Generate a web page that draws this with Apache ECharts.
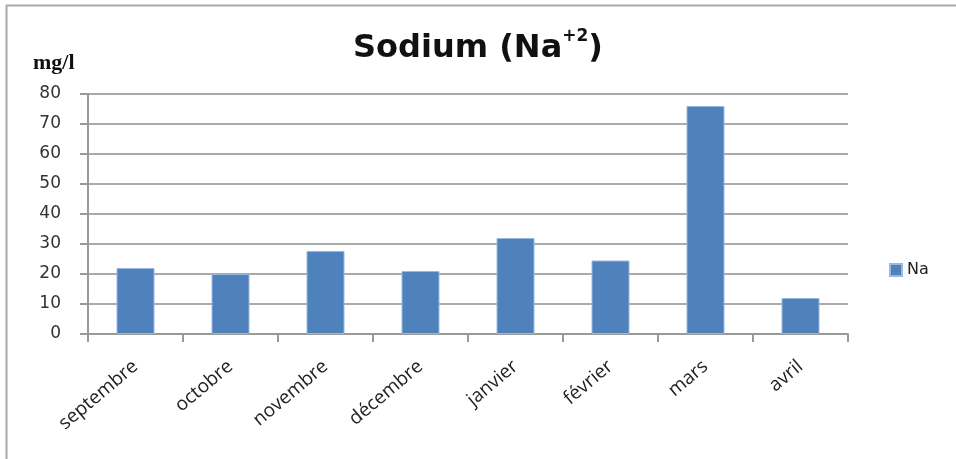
<!DOCTYPE html>
<html><head><meta charset="utf-8">
<script src="https://cdn.jsdelivr.net/npm/echarts@6/dist/echarts.min.js"></script>
<style>html,body{margin:0;padding:0;background:#fff}#c{width:956px;height:459px}</style>
</head><body><div id="c"></div>
<script>
const categories = ['septembre','octobre','novembre','décembre','janvier','février','mars','avril'];
const naValues = [22, 20, 27.7, 21, 32, 24.5, 76, 12];
const yTicks = {min: 0, max: 80, interval: 10};
const seriesName = 'Na';

const chart = echarts.init(document.getElementById('c'), null, {renderer: 'canvas'});
chart.setOption({
  animation: false,
  backgroundColor: '#fff',
  title: {
    text: '{t|Sodium (Na}{s|+2}{t|)}',
    left: 'center', top: 23,
    textStyle: {
      rich: {
        t: {fontFamily: 'DejaVu Sans', fontWeight: 'bold', fontSize: 32, color: '#111', lineHeight: 42},
        s: {fontFamily: 'DejaVu Sans', fontWeight: 'bold', fontSize: 17, color: '#111', verticalAlign: 'top', lineHeight: 42, padding: [0,0,12,0]}
      }
    }
  },
  graphic: [
    {type: 'line', shape: {x1: 6, y1: 5.5, x2: 956, y2: 5.5}, style: {stroke: '#aaaaaa', lineWidth: 2}},
    {type: 'line', shape: {x1: 6.5, y1: 5, x2: 6.5, y2: 459}, style: {stroke: '#aaaaaa', lineWidth: 2}},
    {type: 'text', left: 33, top: 52, style: {text: 'mg/l', font: 'bold 22px "Liberation Serif"', fill: '#111'}}
  ],
  legend: {
    data: [seriesName], left: 884, top: 257, orient: 'vertical',
    itemWidth: 12, itemHeight: 12, itemGap: 8,
    icon: 'rect',
    textStyle: {fontFamily: 'DejaVu Sans', fontSize: 16, color: '#222'}
  },
  grid: {left: 88, right: 108, top: 94, bottom: 125, containLabel: false},
  xAxis: {
    type: 'category', data: categories,
    axisLine: {lineStyle: {color: '#999', width: 2}},
    axisTick: {show: true, alignWithLabel: false, length: 8, lineStyle: {color: '#999', width: 2}},
    axisLabel: {rotate: 40, margin: 30, fontFamily: 'Open Sans', fontSize: 19, color: '#222'}
  },
  yAxis: {
    type: 'value', min: yTicks.min, max: yTicks.max, interval: yTicks.interval,
    axisLine: {show: true, lineStyle: {color: '#999', width: 2}},
    axisTick: {show: true, inside: false, length: 8, lineStyle: {color: '#999', width: 2}},
    splitLine: {show: true, lineStyle: {color: '#aaa', width: 2}},
    axisLabel: {margin: 27, fontFamily: 'DejaVu Sans', fontSize: 17, color: '#333'}
  },
  series: [{
    name: seriesName, type: 'bar', data: naValues, barWidth: '40%',
    itemStyle: {color: '#4f81bd', borderColor: '#9ab8de', borderWidth: 1}
  }]
});
</script></body></html>
